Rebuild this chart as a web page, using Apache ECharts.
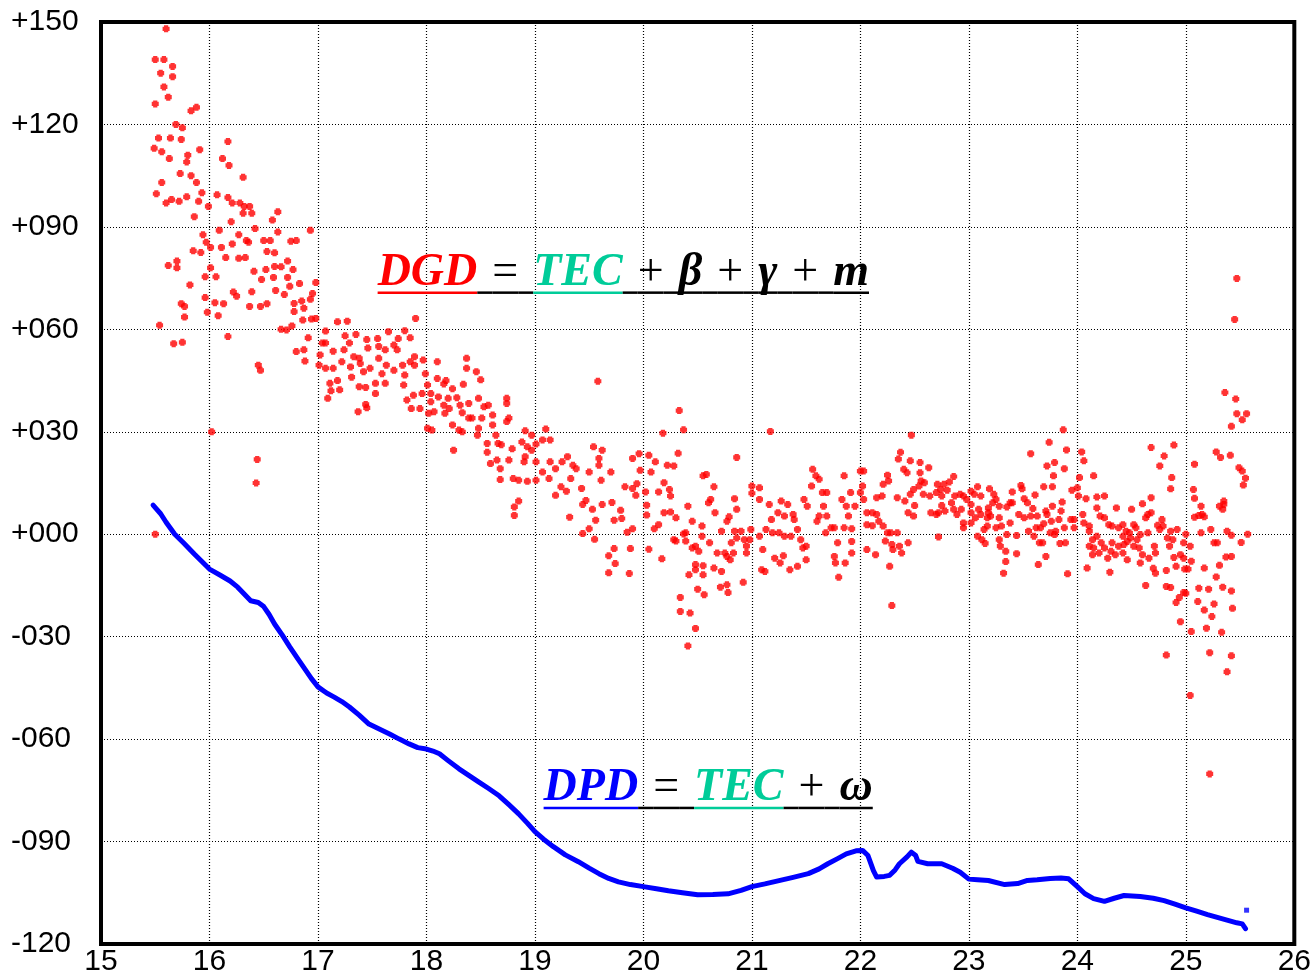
<!DOCTYPE html>
<html>
<head>
<meta charset="utf-8">
<title>DGD / DPD</title>
<script src="https://cdn.jsdelivr.net/npm/echarts@6.0.0/dist/echarts.min.js"></script>
<style>
  html, body { margin: 0; padding: 0; background: #ffffff; }
  #chart { width: 1314px; height: 977px; }
</style>
</head>
<body>
<div id="chart"></div>
<script>
// Axis ranges and ticks
const xRange = [15, 26];
const xStep = 1;
const yRange = [-120, 150];
const yStep = 30;

// DGD samples, [time, value], split by time span
const dgdEarly = [
  [15.60,148],[15.50,139],[15.58,139],[15.55,135],[15.66,137],[15.66,134],[15.58,131],[15.62,128],[15.50,126],[15.83,124],
  [15.88,125],[15.69,120],[15.75,119],[15.53,116],[15.64,116],[15.74,115.6],[15.49,113],[15.56,112],[15.63,110],[15.80,111],
  [15.91,112.6],[16.17,115],[15.79,109],[16.12,110],[16.18,108],[16.31,104.5],[15.73,105.6],[15.83,105],[15.88,103],[15.56,103],
  [15.93,100],[15.51,99.7],[15.65,98],[15.60,97],[15.72,97.5],[15.79,98.8],[15.90,97.5],[15.99,96],[16.07,99.4],[16.17,98.6],
  [16.21,97],[16.28,97],[16.32,96],[16.37,96],[16.39,94],[16.31,94],[16.63,94.4],[16.58,92],[15.86,93],[16.20,91.5],
  [16.42,89.5],[16.93,89],[16.63,88.5],[15.94,87.7],[16.09,89],[16.27,87.7],[16.34,86],[16.50,86],[16.56,86],[16.75,85.8],
  [16.80,86],[15.97,85.5],[16.01,84],[16.11,84],[16.21,85],[16.36,85.5],[15.85,83],[15.92,82.5],[16.53,82.8],[16.60,82.4],
  [16.72,80],[16.15,81],[16.27,80.8],[16.33,81],[15.70,80],[15.62,78.7],[15.70,78],[16.01,78],[16.06,75.4],[15.96,75.4],
  [16.41,77],[16.52,77.5],[16.60,78.4],[16.66,78.3],[16.77,77.5],[16.48,74.6],[16.59,75.2],[16.72,75.2],[15.82,73],[16.74,72.6],
  [16.83,73.4],[16.98,73.7],[16.61,71.4],[16.69,70.2],[16.95,70.5],[16.22,70.9],[16.25,69.7],[16.39,71],[15.74,67.5],[15.77,66.7],
  [15.96,69.3],[16.05,67.8],[16.13,67.5],[16.37,66.7],[16.47,66.7],[16.53,67.5],[15.98,65],[16.08,64],[15.77,63.6],[15.54,61.2],
  [16.17,57.9],[15.67,55.8],[15.75,56.2],[16.45,49.5],[16.47,48],[16.02,30],[16.44,21.9],[16.43,15],[15.50,0]
];

const dgdMid = [
  [16.78,67.6],[16.85,68.3],[16.93,68.8],[16.78,65.2],[16.87,66.2],[16.86,62.7],[16.94,63],[16.98,63.2],[16.66,60],[16.71,59.8],
  [16.76,61],[16.91,57.5],[16.80,53.5],[16.87,54],[16.88,50.7],[17.18,62.2],[17.27,62.4],[17.07,59.5],[17.04,56],[17.07,56],
  [17.02,52.5],[17.01,49.5],[17.14,53.6],[17.25,58.1],[17.35,58.5],[17.29,56],[17.24,54],[17.22,50.5],[17.33,52],[17.30,49],
  [17.07,48.6],[17.14,48.6],[17.11,44.2],[17.18,45],[17.12,42],[17.09,39.8],[17.20,42.3],[17.31,46],[17.39,50],[17.45,57],
  [17.46,54.5],[17.55,57.3],[17.56,55],[17.62,54],[17.65,59.3],[17.74,57.3],[17.80,59.6],[17.85,57.5],[17.70,55.4],[17.73,54],
  [17.38,51.5],[17.42,47.6],[17.48,48.6],[17.56,51.5],[17.59,47],[17.63,49.5],[17.70,48],[17.78,49.5],[17.85,50.5],[17.89,52],
  [17.97,51],[17.89,49.5],[17.80,46.6],[17.79,43.7],[17.38,43.2],[17.44,43],[17.53,44.2],[17.62,44.2],[17.53,41.2],[17.44,38],
  [17.37,35.9],[17.45,37],[17.82,39.3],[17.88,40.7],[17.86,36.8],[17.94,36.8],[17.90,63.2],[17.99,47],[18.01,43.7],[17.96,41.2],
  [18.10,50.5],[18.10,45.6],[18.16,44],[18.18,45],[18.24,42.6],[18.04,41.2],[18.11,40.2],[18.04,38.8],[18.16,37.8],[18.20,39.8],
  [18.28,40],[18.02,35.4],[18.07,35.9],[18.17,35.4],[18.21,36.8],[18.31,37.8],[18.33,35.6],[18.39,34],[18.42,34],[18.37,51.5],
  [18.37,48.6],[18.46,47.6],[18.50,45.2],[18.34,43.9],[18.39,38.3],[18.48,39.8],[18.53,37.3],[18.57,37.8],[18.61,34.9],[18.51,34],
  [18.24,32],[18.30,30.5],[18.33,30],[18.05,30.5],[18.01,31],[18.25,24.6],[18.48,31],[18.47,29],[18.56,26.6],[18.66,26.6],
  [18.69,26.2],[18.74,39.8],[18.74,38.3],[18.76,34],[18.74,33],[18.61,32],[18.64,29],[18.56,24],[18.59,20.7],[18.65,21.7],
  [18.68,19.2],[18.68,16],[18.76,21.7],[18.79,25],[18.88,27],[18.91,30.3],[18.97,29],[18.93,25.6],[19.01,26.4],[18.97,24.6],
  [18.91,22.7],[18.90,21.2],[19.01,21.2],[18.80,16.3],[18.85,15.8],[18.93,15.5],[19.01,15.8],[18.85,9.7],[18.81,8],[18.81,5.5],
  [19.07,27.6],[19.10,30.8],[19.14,27.6],[19.14,21.2],[19.07,18.2],[19.13,16.3],[19.19,19.2],[19.25,21.2],[19.30,22.7],[19.35,20.2],
  [19.38,19.2],[19.33,16.3],[19.24,13.9],[19.19,11.4],[19.29,12.6],[19.32,5],[19.43,13.4],[19.50,18.2],[19.54,25.6],[19.62,24.6],
  [19.59,22.2],[19.59,20.2],[19.70,18.2],[19.61,15.8],[19.47,9.9],[19.44,8.7],[19.53,7.3],[19.62,8.7],[19.71,9.3],[19.79,7],
  [19.80,4.6],[19.73,4.1],[19.56,4.1],[19.50,1.6],[19.44,0.2],[19.55,-1.5],[19.83,13.9],[19.90,13.4],[19.94,14.8],[19.93,11.4],
  [19.96,23.6],[19.90,22.2],[19.97,18.7],[20.05,23.1],[20.11,21.2],[20.07,18.2],[20.02,12.4],[20.03,8.5],[20.03,5.6],[20.10,1.6],
  [19.90,1.6],[19.85,0.6],[19.73,-4.2],[19.88,-4.2],[20.05,-4.4],[19.68,-6.3],[19.74,-8.6],[19.68,-11.3],[19.87,-11.5],[19.58,44.8]
];

const dgdLate = [
  [20.33,36.2],[20.37,30.6],[20.18,29.6],[21.17,30.1],[22.47,29],[20.22,20.2],[20.28,20],[20.32,23.7],[20.19,15.1],[20.24,13.1],
  [20.25,11.2],[20.14,12.4],[20.14,2.8],[20.19,6.3],[20.25,6.5],[20.30,4.8],[20.28,-1.6],[20.39,0.4],[20.41,8.2],[20.45,3.8],
  [20.54,2.4],[20.55,17.1],[20.58,17.5],[20.65,13.9],[20.62,10.2],[20.66,6.3],[20.60,9.2],[20.77,3.8],[20.79,5.1],[20.84,10.4],
  [20.86,22.5],[20.86,7.3],[20.72,0.9],[20.84,0.9],[20.90,0.9],[20.86,-1.1],[20.81,-2.5],[20.75,-5.5],[20.68,-5.5],[20.61,-2.5],
  [20.54,-0.6],[20.48,-3.5],[20.51,-5],[20.45,-4],[20.37,0.1],[20.39,-2],[20.30,-2],[20.65,-9.9],[20.72,-10.9],[20.77,-6.5],
  [20.80,-7.5],[20.83,-5.5],[20.93,-1.6],[20.95,-3.5],[20.95,-5.5],[20.98,-1.6],[20.99,1.4],[21.00,14.1],[21.00,12],[21.07,13.6],
  [21.07,10.2],[20.55,-9.2],[20.48,-8.9],[20.48,-10.4],[20.42,-11.9],[20.55,-11.9],[20.71,-15.5],[20.78,-17.1],[20.77,-14.8],[20.92,-14.1],
  [20.50,-16.1],[20.56,-17.7],[20.34,-18.5],[20.34,-22.6],[20.43,-23.1],[20.48,-27.6],[20.41,-32.7],[20.17,-7.2],[21.07,-0.6],[21.13,1.4],
  [21.18,4.3],[21.27,9.7],[21.16,8.7],[21.24,6.3],[21.30,5.3],[21.33,8.7],[21.38,5.8],[21.39,4.3],[21.19,0.4],[21.25,0.4],
  [21.30,-0.6],[21.36,-0.6],[21.42,1.4],[21.45,-1.6],[21.50,-3.5],[21.47,-4],[21.10,-4.5],[21.09,-10.4],[21.12,-10.9],[21.21,-7],
  [21.29,-6.3],[21.26,-8.4],[21.35,-10.4],[21.42,-9.4],[21.50,-7.5],[21.48,10.2],[21.51,8.2],[21.56,19],[21.59,17.1],[21.62,16.1],
  [21.55,14.1],[21.65,12.2],[21.69,12.2],[21.66,8.2],[21.62,5.3],[21.60,3.8],[21.69,5.3],[21.73,1.9],[21.76,1.9],[21.68,0.4],
  [21.79,-2.5],[21.76,-6.5],[21.77,-8.4],[21.80,-12.6],[21.86,-8.4],[21.92,-5.5],[21.92,-2.1],[21.85,1.9],[21.89,5.3],[21.92,1.6],
  [21.85,17.1],[21.83,10.2],[21.87,8.2],[21.91,12.2],[21.95,8.2],[22.00,18.5],[22.03,18.5],[22.02,14.1],[22.00,12.2],[22.03,10.2],
  [22.06,6.3],[22.11,6.3],[22.15,5.8],[22.17,3.8],[22.06,2.8],[22.11,2.5],[22.21,2.4],[22.25,0.4],[22.28,0.4],[22.34,0.4],
  [22.06,-4.5],[22.14,-6],[22.23,-2],[22.29,-3],[22.30,-4.5],[22.36,-3.5],[22.38,-5.5],[22.44,-2.5],[22.27,-9.4],[22.29,-20.9],
  [22.15,10.7],[22.20,11.2],[22.21,14.6],[22.25,17.3],[22.26,15.6],[22.34,10.7],[22.35,22],[22.37,24],[22.40,19],[22.43,18],
  [22.46,21.5],[22.55,21],[22.63,19.5],[22.55,18],[22.56,15.6],[22.59,15.1],[22.54,14.1],[22.49,13.1],[22.46,11.7],[22.41,9.7],
  [22.50,8.4],[22.44,6.3],[22.49,5.3],[22.58,11.7],[22.64,11.2],[22.70,12.2],[22.65,6.3],[22.70,5.8],[22.72,-0.8]
];

const dgdEnd = [
  [23.87,30.6],[23.74,26.9],[23.57,23.6],[23.90,24.7],[24.04,24.1],[24.06,21.5],[23.72,20],[23.79,21],[23.88,19.2],[23.78,17.1],
  [24.15,17.1],[24.02,16.6],[24.00,13.6],[23.95,12.9],[23.77,13.9],[23.69,13.9],[23.61,11.5],[23.48,14.3],[23.49,13.3],[23.40,12.4],
  [23.40,9.2],[23.51,10.4],[23.54,9.2],[23.59,7.5],[23.57,5.3],[23.63,5.3],[23.71,6.8],[23.77,8.2],[23.86,9.4],[23.85,6.8],
  [23.83,4.3],[23.76,3.8],[23.72,5.8],[23.69,3.1],[23.66,1.9],[23.62,1.9],[23.60,-0.6],[23.75,0.4],[23.80,0.9],[23.79,-0.1],
  [23.88,1.9],[23.94,4.3],[23.97,1.9],[23.97,4.3],[23.89,-2.5],[23.84,-2.7],[23.65,-2.5],[23.68,-2.5],[23.71,-6.5],[23.64,-8.9],
  [23.44,-5.7],[23.34,-5],[23.34,-8],[23.32,-11.4],[23.29,-3.5],[23.28,-1.6],[23.35,-0.1],[23.44,-0.4],[23.55,0.9],[23.51,4.8],
  [23.46,5.8],[23.38,3.3],[23.30,2.4],[23.25,1.9],[23.28,4.8],[23.20,5.3],[23.17,4.8],[23.18,6.3],[23.11,5.8],[23.14,1.4],
  [23.17,2.4],[23.12,-1.6],[23.15,-2.7],[23.08,-0.6],[23.02,3.3],[23.06,4.8],[23.09,7.3],[23.02,6.3],[22.95,3.3],[22.95,1.9],
  [22.89,5.8],[22.93,7.3],[22.86,7.3],[22.78,6.8],[22.75,8.4],[22.72,6.3],[22.84,9.2],[22.87,11.2],[22.75,11.2],[22.80,12.9],
  [22.92,11.7],[22.95,11.2],[22.98,10.2],[23.02,12.6],[23.05,11.7],[23.08,13.9],[23.11,11.2],[23.02,8.7],[23.19,13.3],[23.23,11.7],
  [23.25,10.2],[23.28,8.2],[23.22,9.2],[23.35,8],[23.38,9.2],[23.18,7.7],[22.71,14.6],[22.77,14.6],[22.82,15.3],[22.86,16.9],
  [22.74,13.1],[24.01,11.2],[24.08,10.4],[24.18,10.9],[24.25,11.2],[24.18,7.7],[24.36,7.7],[24.50,7.3],[24.60,8.9],[24.68,10.7],
  [24.05,5.8],[24.06,3.3],[24.11,2.4],[24.11,0.9],[24.21,5.3],[24.25,4.8],[24.29,2.8],[24.32,2.4],[24.38,1.9],[24.42,2.8],
  [24.45,0.9],[24.48,0.4],[24.52,2.8],[24.54,1.9],[24.65,5.8],[24.63,4.8],[24.68,6.3],[24.74,2.6],[24.78,4.3],[24.79,2.4],
  [24.76,1.4],[24.86,0.9],[24.92,1.4],[25.00,0],[25.04,-3.5],[24.98,-2.5],[24.88,-1.6],[24.85,-3.5],[24.83,-1.1],[24.71,-3.5],
  [24.72,-5.5],[24.65,0.4],[24.58,-0.1],[24.55,-1.6],[24.49,-1.1],[24.46,-2.1],[24.43,-3],[24.38,-3.5],[24.42,-0.6],[24.32,-2.5],
  [24.31,-5],[24.25,-4],[24.22,-2.5],[24.18,-0.6],[24.14,-1.6],[24.11,-3.5],[24.14,-6],[24.20,-5.5],[24.15,-4],[24.28,-7],
  [24.35,-6],[24.42,-5.5],[24.46,-7.5],[24.52,-3.5],[24.57,-4],[24.60,-6],[24.58,-8.4],[24.66,-7],[24.70,-10],[24.72,-11.4],
  [24.82,-10.6],[24.89,-6.8],[24.91,-9.4],[24.95,-6],[24.98,-7],[24.99,-10.2],[25.02,-10.2],[25.05,-7.9],[25.00,-17.3],[24.98,-17.1],
  [24.94,-18.5],[24.91,-20],[24.95,-25.6],[24.82,-15.3],[24.86,-15.6],[24.63,-15],[24.30,-11.1],[24.09,-9.9],[23.91,-11.6],[24.82,-35.4],
  [25.04,-47.2],[25.05,-28.5],[25.11,-19.7],[25.12,-15.8],[25.17,-9.9],[25.21,-16.1],[25.19,-27.5],[25.26,-20.4],[25.24,-24.1],[25.17,-22.2],
  [25.22,-34.7],[25.28,-12.5],[25.31,-9.1],[25.34,-15.5],[25.33,-28.7],[25.38,-40.3],[25.37,-6.7],[25.42,-6.5],[25.42,-35.6],[25.42,-16.6],
  [25.43,-21.7],[25.26,-2.5],[25.29,-2.5],[25.51,-2.4],[25.57,0],[25.38,0.9],[25.42,-0.3],[25.35,8.7],[25.34,7.3],[25.31,8.2],
  [25.35,9.7],[25.23,1.4],[25.14,0.4],[25.15,5.8],[25.17,5.1],[25.12,5.5],[25.08,5],[25.14,8.2],[25.08,10.5],[25.07,13.1],
  [25.08,20.5],[25.28,24.1],[25.32,22.5],[25.41,23.1],[24.87,16.6],[24.86,13.3],[24.76,20],[24.80,22.9],[24.68,25.4],[24.89,26.1],
  [25.42,31.6],[25.47,35.3],[25.52,33.5],[25.56,35.3],[25.46,39.6],[25.49,19.5],[25.52,18.5],[25.55,16.4],[25.53,14.4],[25.47,74.9],
  [25.45,62.9],[25.36,41.5],[25.22,-70.2]
];

// DPD trace: times and values
const dpdTime = [
  15.48,15.55,15.60,15.68,15.76,15.86,15.93,16.00,16.10,16.19,16.26,16.32,16.38,16.45,16.50,16.55,16.60,16.67,16.74,16.81,
  16.88,16.94,17.00,17.08,17.15,17.22,17.29,17.38,17.47,17.56,17.66,17.75,17.84,17.92,18.00,18.06,18.12,18.20,18.30,18.39,
  18.48,18.57,18.67,18.76,18.85,18.93,19.00,19.08,19.17,19.28,19.40,19.50,19.59,19.68,19.77,19.88,20.00,20.12,20.23,20.36,
  20.50,20.64,20.78,20.90,21.00,21.12,21.24,21.38,21.52,21.62,21.70,21.79,21.87,21.96,22.02,22.07,22.12,22.15,22.22,22.27,
  22.32,22.36,22.43,22.47,22.51,22.53,22.62,22.75,22.85,22.92,23.00,23.08,23.18,23.33,23.45,23.54,23.63,23.75,23.85,23.92,
  24.00,24.07,24.15,24.25,24.34,24.43,24.58,24.70,24.80,24.90,25.00,25.10,25.20,25.29,25.38,25.47,25.52,25.55
];
const dpdValue = [
  8.5,6,3.5,0,-2.5,-5.8,-8,-10.2,-12,-13.7,-15.5,-17.5,-19.5,-20,-21.2,-23.5,-26.3,-29.5,-33,-36.3,
  -39.5,-42.3,-44.7,-46.5,-47.7,-49,-50.6,-53,-55.6,-57,-58.5,-60,-61.4,-62.5,-62.9,-63.5,-64.3,-66.3,-68.7,-70.6,
  -72.5,-74.4,-76.6,-79.2,-81.9,-84.6,-87.1,-89.3,-91.5,-93.9,-95.9,-97.8,-99.4,-100.8,-101.8,-102.6,-103.2,-103.8,-104.4,-105,
  -105.6,-105.5,-105.3,-104.3,-103.2,-102.4,-101.5,-100.5,-99.4,-98,-96.5,-95,-93.6,-92.7,-92.6,-94.1,-98.5,-100.4,-100.2,-99.9,
  -98.3,-96.5,-94.5,-93.1,-94.1,-95.8,-96.5,-96.5,-97.8,-99,-101,-101.2,-101.4,-102.6,-102.3,-101.4,-101.2,-100.8,-100.7,-100.9,
  -103.2,-105.3,-106.7,-107.5,-106.6,-105.8,-106.1,-106.6,-107.3,-108.3,-109.4,-110.4,-111.4,-112.2,-113,-113.8,-114.1,-115.5
];
const dpdStray = [[25.56, -110.1]];

// Equation annotations: anchor [time, value] of the left end of the baseline
const dgdEquationAnchor = [17.55, 72.5];
const dpdEquationAnchor = [19.08, -78.4];

const RED = '#ff0000';
const BLUE = '#0000ff';
const TEAL = '#00cc99';
const INK = '#000000';

const dgdPoints = [].concat(dgdEarly, dgdMid, dgdLate, dgdEnd);
const dpdLine = dpdTime.map((t, i) => [t, dpdValue[i]]);

const sansFont = '"Liberation Sans", Arial, sans-serif';
const serifFont = '"Liberation Serif", "Times New Roman", serif';

function signedLabel(v) {
  const s = String(Math.abs(v)).padStart(3, '0');
  return (v < 0 ? '-' : '+') + s;
}

const chart = echarts.init(document.getElementById('chart'), null, { renderer: 'canvas' });

const gridLine = { show: true, lineStyle: { color: '#000000', width: 1.2, type: [1, 2] } };

chart.setOption({
  animation: false,
  backgroundColor: '#ffffff',
  grid: {
    left: 101, right: 17, top: 22, bottom: 32,
    show: true, borderColor: '#000000', borderWidth: 4, backgroundColor: '#ffffff'
  },
  xAxis: {
    type: 'value', min: xRange[0], max: xRange[1], interval: xStep,
    axisLine: { show: false }, axisTick: { show: false },
    splitLine: gridLine,
    axisLabel: { color: '#000000', fontSize: 30, fontFamily: sansFont, margin: 3 }
  },
  yAxis: {
    type: 'value', min: yRange[0], max: yRange[1], interval: yStep,
    axisLine: { show: false }, axisTick: { show: false },
    splitLine: gridLine,
    axisLabel: {
      color: '#000000', fontSize: 30, fontFamily: sansFont,
      align: 'left', margin: 90, formatter: signedLabel
    }
  },
  series: [
    {
      name: 'DPD', type: 'line', data: dpdLine, showSymbol: false, symbol: 'none',
      lineStyle: { color: BLUE, width: 5, join: 'round', cap: 'round' }, z: 2
    },
    {
      name: 'DPD stray', type: 'scatter', data: dpdStray, symbol: 'rect', symbolSize: 5,
      itemStyle: { color: BLUE }, z: 2
    },
    {
      name: 'DGD', type: 'scatter', data: dgdPoints,
      symbol: 'path://M1,0H4V1H5V4H4V5H1V4H0V1H1Z', symbolSize: 7,
      itemStyle: { color: RED }, z: 3
    }
  ]
});

// Underlined, multi-coloured equation: glyph runs separated by fixed gaps
const measureCtx = document.createElement('canvas').getContext('2d');
const FS = 46;
const GAP = 15;
const fontBI = 'italic bold ' + FS + 'px ' + serifFont;
const fontR = FS + 'px ' + serifFont;

function equation(parts, anchor) {
  const p = chart.convertToPixel({ gridIndex: 0 }, anchor);
  const baseline = p[1];
  const underY = baseline + 6;
  const midY = baseline - FS * 0.3375 + 2;
  let x = p[0];
  const els = [];
  parts.forEach((part, i) => {
    const font = part.bi ? fontBI : fontR;
    measureCtx.font = font;
    const w = measureCtx.measureText(part.t).width;
    els.push({
      type: 'text', x: x, y: midY, z: 10,
      style: { text: part.t, font: font, fill: part.c, textAlign: 'left', verticalAlign: 'middle', textVerticalAlign: 'middle' }
    });
    els.push({
      type: 'line', z: 10,
      shape: { x1: x, y1: underY, x2: x + w, y2: underY },
      style: { stroke: part.u || INK, lineWidth: 2.5 }
    });
    x += w;
    if (i < parts.length - 1) {
      els.push({
        type: 'line', z: 10,
        shape: { x1: x, y1: underY, x2: x + GAP, y2: underY },
        style: { stroke: INK, lineWidth: 2.5 }
      });
      x += GAP;
    }
  });
  return els;
}

const dgdParts = [
  { t: 'DGD', c: RED, u: RED, bi: true },
  { t: '=', c: INK },
  { t: 'TEC', c: TEAL, u: TEAL, bi: true },
  { t: '+', c: INK },
  { t: 'β', c: INK, bi: true },
  { t: '+', c: INK },
  { t: 'γ', c: INK, bi: true },
  { t: '+', c: INK },
  { t: 'm', c: INK, bi: true }
];
const dpdParts = [
  { t: 'DPD', c: BLUE, u: BLUE, bi: true },
  { t: '=', c: INK },
  { t: 'TEC', c: TEAL, u: TEAL, bi: true },
  { t: '+', c: INK },
  { t: 'ω', c: INK, bi: true }
];

chart.setOption({
  graphic: equation(dgdParts, dgdEquationAnchor).concat(equation(dpdParts, dpdEquationAnchor))
});
</script>
</body>
</html>
